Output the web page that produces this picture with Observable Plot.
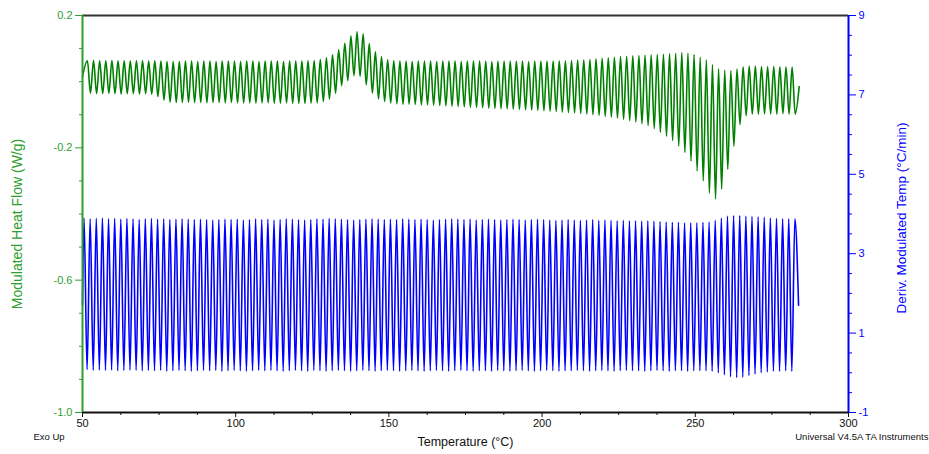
<!DOCTYPE html>
<html><head><meta charset="utf-8">
<script src="https://cdn.jsdelivr.net/npm/d3@7"></script>
<script src="https://cdn.jsdelivr.net/npm/@observablehq/plot@0.6"></script>
<style>
html,body{margin:0;padding:0;background:#fff;}
#chart{width:929px;height:454px;}
</style></head><body><div id="chart"></div>
<script>
// ---- axis ticks ----
const xMajor = [50, 100, 150, 200, 250, 300];
const xMinor = [62.5, 75, 87.5, 112.5, 125, 137.5, 162.5, 175, 187.5, 212.5, 225, 237.5, 262.5, 275, 287.5];
const leftMajor = [0.2, -0.2, -0.6, -1.0];
const leftMinor = [0.1, 0, -0.1, -0.3, -0.4, -0.5, -0.7, -0.8, -0.9];
const rightMajor = [9, 7, 5, 3, 1, -1];
const rightMinor = [8.5, 8, 7.5, 6.5, 6, 5.5, 4.5, 4, 3.5, 2.5, 2, 1.5, 0.5, 0, -0.5];

// ---- texts ----
const xTitle = "Temperature (°C)";
const leftTitle = "Modulated Heat Flow (W/g)";
const rightTitle = "Deriv. Modulated Temp (°C/min)";
const noteLeft = "Exo Up";
const noteRight = "Universal V4.5A TA Instruments";

// ---- modulation: one cycle every 2 °C ----
const period = 2.0;

// Modulated Heat Flow (W/g): start/end points and per-cycle maxima / minima
const greenStart = {T: 50.0, v: 0.015};
const greenEnd = {T: 283.9, v: -0.015};
const greenPeakT0 = 51.6;
const greenTroughT0 = 52.6;
const greenPeaks = [
0.063,0.064,0.063,0.063,0.064,0.063,0.063,0.062,0.063,0.063,0.062,0.063,
0.062,0.061,0.061,
0.061,0.062,0.062,0.061,0.062,0.062,0.061,0.062,0.062,0.062,0.061,0.062,0.062,0.061,0.062,0.062,0.062,0.061,0.062,0.062,0.062,0.063,0.064,
0.067,0.072,0.081,0.096,0.116,0.138,0.151,0.145,0.115,0.090,0.075,0.066,
0.063,0.062,0.062,0.061,0.062,0.062,0.062,0.061,0.062,0.062,0.062,0.061,0.062,0.062,0.062,0.062,0.061,0.062,0.062,0.062,0.062,0.062,0.061,0.062,0.062,0.062,0.062,0.063,
0.063,0.064,0.065,0.066,0.067,0.069,0.071,0.072,0.074,0.076,0.077,0.078,0.079,0.080,0.081,0.082,0.083,0.085,0.086,0.088,0.086,0.082,0.074,0.066,0.052,0.039,0.035,0.033,0.038,0.045,0.047,0.047,0.046,0.046,0.046,0.045,0.045,0.044
];
const greenTroughs = [
-0.035,-0.036,-0.036,-0.035,-0.036,-0.037,-0.036,-0.036,-0.037,-0.036,-0.038,
-0.045,-0.056,-0.062,
-0.063,-0.063,-0.062,-0.063,-0.063,-0.064,-0.063,-0.063,-0.064,-0.063,-0.064,-0.064,-0.064,-0.065,-0.064,-0.064,-0.065,-0.065,-0.064,-0.065,-0.065,-0.066,-0.065,-0.064,
-0.060,-0.052,-0.035,-0.012,0.003,0.018,0.016,-0.010,-0.035,-0.052,-0.060,-0.065,
-0.067,-0.068,-0.068,-0.069,-0.070,-0.070,-0.071,-0.072,-0.073,-0.074,-0.075,-0.076,-0.077,-0.078,-0.079,-0.080,-0.081,-0.082,-0.082,-0.083,-0.084,-0.085,-0.086,-0.087,-0.088,-0.089,-0.090,-0.092,
-0.093,-0.094,-0.096,-0.098,-0.100,-0.102,-0.105,-0.107,-0.110,-0.114,-0.118,-0.122,-0.127,-0.133,-0.142,-0.153,-0.165,-0.178,-0.195,-0.214,-0.240,-0.270,-0.300,-0.337,-0.355,-0.325,-0.265,-0.195,-0.130,-0.103,-0.098,-0.098,-0.097,-0.098,-0.098,-0.097,-0.098,-0.098
];

// Deriv. Modulated Temp (°C/min): start/end points and per-cycle maxima / minima
const blueStart = {T: 50.0, v: 1.7};
const blueEnd = {T: 283.7, v: 1.7};
const bluePeakT0 = 50.5;
const blueTroughT0 = 51.5;
const bluePeaks = [
3.90,3.88,3.89,3.90,3.88,3.89,3.87,3.89,3.88,3.86,
3.88,3.89,3.87,3.88,3.86,3.87,3.88,3.87,3.86,3.87,
3.86,3.85,3.86,3.87,3.86,3.87,3.85,3.86,3.88,3.86,
3.87,3.85,3.86,3.88,3.87,3.86,3.85,3.86,3.88,3.87,
3.89,3.88,3.87,3.86,3.85,3.86,3.87,3.88,3.87,3.86,
3.87,3.86,3.88,3.87,3.86,3.87,3.86,3.85,3.86,3.87,
3.88,3.87,3.86,3.87,3.85,3.86,3.87,3.86,3.85,3.86,
3.87,3.86,3.85,3.86,3.87,3.86,3.85,3.84,3.85,3.86,
3.85,3.84,3.85,3.86,3.84,3.85,3.84,3.83,3.84,3.83,
3.83,3.82,3.83,3.82,3.81,3.80,3.79,3.79,3.78,3.78,
3.78,3.79,3.80,3.84,3.90,3.95,3.96,3.96,3.95,3.94,
3.93,3.92,3.90,3.89,3.88,3.88,3.88
];
const blueTroughs = [
0.08,0.06,0.07,0.06,0.07,0.05,0.06,0.07,0.06,0.05,
0.06,0.05,0.06,0.04,0.05,0.06,0.05,0.04,0.05,0.06,
0.05,0.06,0.04,0.05,0.06,0.05,0.04,0.05,0.06,0.05,
0.06,0.05,0.04,0.05,0.06,0.05,0.04,0.06,0.05,0.04,
0.05,0.06,0.05,0.04,0.05,0.06,0.05,0.04,0.05,0.06,
0.05,0.04,0.05,0.06,0.05,0.04,0.05,0.06,0.05,0.04,
0.05,0.06,0.05,0.04,0.05,0.05,0.04,0.06,0.05,0.04,
0.05,0.06,0.05,0.04,0.05,0.06,0.05,0.04,0.05,0.05,
0.06,0.05,0.04,0.05,0.06,0.05,0.04,0.05,0.06,0.05,
0.05,0.04,0.05,0.06,0.05,0.04,0.05,0.05,0.04,0.05,
0.05,0.05,0.04,0.00,-0.05,-0.10,-0.12,-0.11,-0.07,-0.03,
0.00,0.02,0.04,0.04,0.05,0.04
];

// ---- colours ----
const GREEN_AXIS = "#2e9e2e";
const GREEN_LINE = "#008000";
const BLUE = "#0000ff";

// ---- build series ----
function buildSeries(start, end, peakT0, peaks, troughT0, troughs) {
  const pts = [start];
  peaks.forEach((v, k) => pts.push({T: peakT0 + period * k, v}));
  troughs.forEach((v, k) => pts.push({T: troughT0 + period * k, v}));
  pts.push(end);
  return pts.sort((a, b) => a.T - b.T);
}
const greenData = buildSeries(greenStart, greenEnd, greenPeakT0, greenPeaks, greenTroughT0, greenTroughs);
const blueData = buildSeries(blueStart, blueEnd, bluePeakT0, bluePeaks, blueTroughT0, blueTroughs);

// right axis [-1, 9] mapped onto left axis [-1, 0.2]
const toLeft = d3.scaleLinear().domain([-1, 9]).range([-1, 0.2]);
const fmtRight = d => String(Math.round(toLeft.invert(d)));

const chart = Plot.plot({
  width: 929, height: 454,
  marginLeft: 82, marginRight: 81, marginTop: 15, marginBottom: 42,
  style: {fontFamily: "'Liberation Sans', Arial, sans-serif", fontSize: "11px", background: "white", overflow: "visible"},
  x: {domain: [50, 300]},
  y: {domain: [-1, 0.2]},
  marks: [
    Plot.line(blueData, {x: "T", y: d => toLeft(d.v), stroke: BLUE, strokeWidth: 1.6, curve: "monotone-x"}),
    Plot.line(greenData, {x: "T", y: "v", stroke: GREEN_LINE, strokeWidth: 1.6, curve: "monotone-x"}),
    Plot.ruleY([0.2], {stroke: "#333", strokeWidth: 2}),
    Plot.ruleY([-1], {stroke: "#111", strokeWidth: 2}),
    Plot.ruleX([50], {stroke: GREEN_AXIS, strokeWidth: 2}),
    Plot.ruleX([300], {stroke: BLUE, strokeWidth: 2}),
    Plot.axisX({ticks: xMajor, tickSize: 5, tickPadding: 2, tickFormat: d => String(d), label: null, color: "#111"}),
    Plot.axisX({ticks: xMinor, tickSize: 3, tickFormat: () => "", label: null, color: "#111"}),
    Plot.axisY({anchor: "left", ticks: leftMajor, tickSize: 7, tickPadding: 3, tickFormat: d => d.toFixed(1), label: null, color: GREEN_AXIS}),
    Plot.axisY({anchor: "left", ticks: leftMinor, tickSize: 3, tickFormat: () => "", label: null, color: GREEN_AXIS}),
    Plot.axisY({anchor: "right", ticks: rightMajor.map(toLeft), tickSize: 7, tickPadding: 3, tickFormat: fmtRight, label: null, color: BLUE}),
    Plot.axisY({anchor: "right", ticks: rightMinor.map(toLeft), tickSize: 3, tickFormat: () => "", label: null, color: BLUE}),
    Plot.text([xTitle], {text: d => d, frameAnchor: "bottom", textAnchor: "middle", dy: 33, fontSize: 12.5, fill: "#111"}),
    Plot.text([leftTitle], {text: d => d, frameAnchor: "left", textAnchor: "middle", dx: -65, dy: 10, rotate: -90, fontSize: 14, fill: GREEN_AXIS}),
    Plot.text([rightTitle], {text: d => d, frameAnchor: "right", textAnchor: "middle", dx: 53, dy: 4, rotate: -90, fontSize: 13.5, fill: BLUE}),
    Plot.text([noteLeft], {text: d => d, frameAnchor: "bottom-left", textAnchor: "start", dx: -49, dy: 27, fontSize: 9.5, fill: "#111"}),
    Plot.text([noteRight], {text: d => d, frameAnchor: "bottom-right", textAnchor: "end", dx: 80, dy: 27, fontSize: 9.5, fill: "#111"})
  ]
});
document.getElementById("chart").appendChild(chart);
</script>
</body></html>
